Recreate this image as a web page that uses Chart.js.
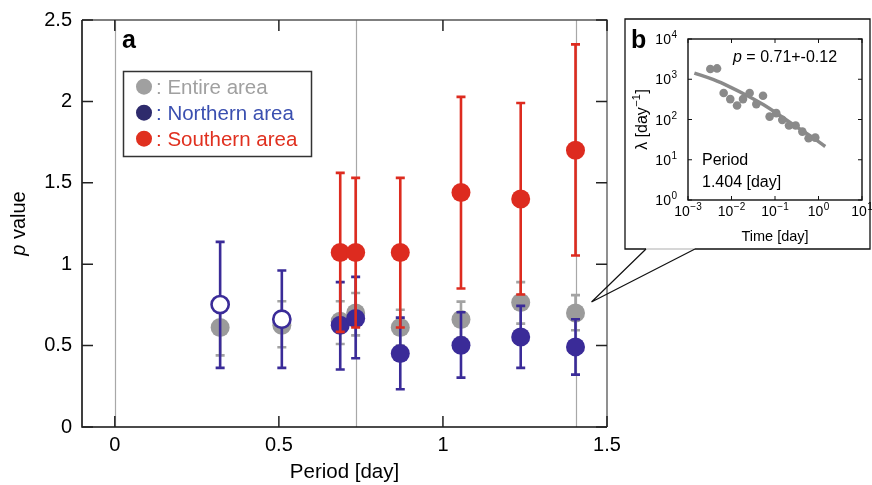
<!DOCTYPE html>
<html><head><meta charset="utf-8">
<script src="https://cdn.jsdelivr.net/npm/chart.js@4.4.1/dist/chart.umd.min.js"></script>
<style>
html,body{margin:0;padding:0;background:#fff;}
#wrap{position:relative;width:872px;height:485px;overflow:hidden;}
#main{position:absolute;left:0;top:0;}
#inset{position:absolute;left:625px;top:19px;}
</style></head><body>
<div id="wrap"><canvas id="main" width="872" height="485"></canvas><canvas id="inset" width="247" height="230"></canvas></div>
<script>
// ---- Data: panel a ----
const periods   = [0.321, 0.509, 0.687, 0.734, 0.870, 1.055, 1.237, 1.404];
const entireP   = [0.611, 0.625, 0.650, 0.700, 0.611, 0.660, 0.765, 0.700];
const entireLo  = [0.440, 0.490, 0.510, 0.563, 0.500, 0.550, 0.635, 0.594];
const entireHi  = [0.780, 0.772, 0.772, 0.823, 0.720, 0.770, 0.890, 0.810];
const northP    = [0.752, 0.662, 0.625, 0.666, 0.451, 0.502, 0.553, 0.492];
const northLo   = [0.363, 0.363, 0.353, 0.422, 0.232, 0.303, 0.363, 0.322];
const northHi   = [1.137, 0.961, 0.890, 0.922, 0.672, 0.705, 0.744, 0.662];
const northOpen = [true, true, false, false, false, false, false, false];
const southPeriods = [0.687, 0.734, 0.870, 1.055, 1.237, 1.404];
const southP    = [1.072, 1.072, 1.072, 1.440, 1.400, 1.700];
const southLo   = [0.584, 0.611, 0.611, 0.851, 0.814, 1.053];
const southHi   = [1.561, 1.530, 1.530, 2.028, 1.990, 2.350];
const refPeriods = [0, 0.734, 1.404];
const xTicks = [0, 0.5, 1, 1.5];
const yTicks = [0, 0.5, 1, 1.5, 2, 2.5];
const seriesNames = ['Entire area', 'Northern area', 'Southern area'];

// ---- Data: panel b (inset) ----
const insetTime = [0.00326, 0.00465, 0.0066, 0.00937, 0.0134, 0.0184, 0.0261, 0.0372, 0.053, 0.0752, 0.107, 0.147, 0.21, 0.298, 0.425, 0.592, 0.843];
const insetRate = [1795, 1858, 454, 321, 223, 321, 454, 241, 389, 118, 144, 98, 71, 71, 50, 34.3, 35.5];
const fitTime = [0.0014, 0.00388, 0.00937, 0.0227, 0.0547, 0.132, 0.321, 0.771, 1.43];
const fitRate = [1426, 973, 640, 395, 232, 124, 64.7, 34.4, 21.3];
const insetXTicks = [0.001, 0.01, 0.1, 1, 10];
const insetXExp = ['\u22123', '\u22122', '\u22121', '0', '1'];
const insetYTicks = [1, 10, 100, 1000, 10000];
const insetYExp = ['0', '1', '2', '3', '4'];

const FONT = '"Liberation Sans", Arial, Helvetica, sans-serif';
Chart.defaults.font.family = FONT;
Chart.defaults.color = '#000';

const GREY = '#9b9b9b', BLUE = '#3a2b98', RED = '#dd2b1f';
const toPts = (xs, ys) => xs.map((x, i) => ({x, y: ys[i]}));

const errorBars = {
  id: 'errorBars',
  beforeDatasetDraw(chart, args) {
    const ds = chart.data.datasets[args.index];
    if (!ds.errLo) return;
    const ctx = chart.ctx, xs = chart.scales.x, ys = chart.scales.y;
    ctx.save();
    ctx.strokeStyle = ds.errColor;
    ctx.lineWidth = 2.6;
    ds.data.forEach((pt, i) => {
      const x = xs.getPixelForValue(pt.x);
      const y1 = ys.getPixelForValue(ds.errLo[i]);
      const y2 = ys.getPixelForValue(ds.errHi[i]);
      ctx.beginPath();
      ctx.moveTo(x, y1); ctx.lineTo(x, y2);
      ctx.moveTo(x - 4.5, y1); ctx.lineTo(x + 4.5, y1);
      ctx.moveTo(x - 4.5, y2); ctx.lineTo(x + 4.5, y2);
      ctx.stroke();
    });
    ctx.restore();
  }
};

const frameA = {
  id: 'frameA',
  beforeDatasetsDraw(chart) {
    const ctx = chart.ctx, a = chart.chartArea, xs = chart.scales.x;
    ctx.save();
    ctx.strokeStyle = '#a8a8a8'; ctx.lineWidth = 1.2;
    refPeriods.forEach(v => {
      const x = Math.round(xs.getPixelForValue(v)) + 0.5;
      ctx.beginPath(); ctx.moveTo(x, a.top); ctx.lineTo(x, a.bottom); ctx.stroke();
    });
    ctx.restore();
  },
  afterDraw(chart) {
    const ctx = chart.ctx, a = chart.chartArea, xs = chart.scales.x, ys = chart.scales.y;
    ctx.save();
    ctx.lineWidth = 1.3; ctx.strokeStyle = '#555';
    ctx.beginPath(); ctx.moveTo(a.left, a.top); ctx.lineTo(a.right, a.top); ctx.lineTo(a.right, a.bottom); ctx.stroke();
    ctx.lineWidth = 1.6; ctx.strokeStyle = '#111';
    ctx.beginPath(); ctx.moveTo(a.left, a.top); ctx.lineTo(a.left, a.bottom); ctx.lineTo(a.right, a.bottom); ctx.stroke();
    ctx.lineWidth = 1.5; ctx.strokeStyle = '#222';
    const TL = 11;
    xTicks.forEach(v => {
      const x = xs.getPixelForValue(v);
      ctx.beginPath(); ctx.moveTo(x, a.bottom); ctx.lineTo(x, a.bottom - TL);
      ctx.moveTo(x, a.top); ctx.lineTo(x, a.top + TL); ctx.stroke();
    });
    yTicks.forEach(v => {
      const y = ys.getPixelForValue(v);
      ctx.beginPath(); ctx.moveTo(a.left, y); ctx.lineTo(a.left + TL, y);
      ctx.moveTo(a.right, y); ctx.lineTo(a.right - TL, y); ctx.stroke();
    });
    ctx.fillStyle = '#000';
    ctx.font = 'bold 25px ' + FONT;
    ctx.textBaseline = 'alphabetic'; ctx.textAlign = 'left';
    ctx.fillText('a', 122, 48);
    ctx.save();
    ctx.translate(25, a.top + (a.bottom - a.top) / 2);
    ctx.rotate(-Math.PI / 2);
    ctx.font = 'italic 20px ' + FONT;
    const w1 = ctx.measureText('p').width;
    ctx.font = '20px ' + FONT;
    const w2 = ctx.measureText(' value').width;
    const x0 = -(w1 + w2) / 2;
    ctx.font = 'italic 20px ' + FONT; ctx.fillText('p', x0, 0);
    ctx.font = '20px ' + FONT; ctx.fillText(' value', x0 + w1, 0);
    ctx.restore();
    ctx.lineWidth = 1.5; ctx.strokeStyle = '#333';
    ctx.strokeRect(123.5, 71.5, 188, 85);
    const legCircle = ['#a0a0a0', '#2e2b6c', '#e0301f'];
    const legText = ['#a0a0a0', '#3a4fb0', '#e0301f'];
    ctx.font = '20.5px ' + FONT;
    seriesNames.forEach((name, i) => {
      const cy = 86.7 + i * 26;
      ctx.fillStyle = legCircle[i];
      ctx.beginPath(); ctx.arc(144, cy, 8, 0, Math.PI * 2); ctx.fill();
      ctx.fillStyle = legText[i];
      ctx.fillText(': ' + name, 156, cy + 7);
    });
    const bx0 = 625, by0 = 19, bx1 = 870, by1 = 249;
    const c1 = 646, c2 = 695;
    ctx.lineWidth = 1.3; ctx.strokeStyle = '#111';
    ctx.beginPath();
    ctx.moveTo(c1, by1); ctx.lineTo(bx0, by1); ctx.lineTo(bx0, by0); ctx.lineTo(bx1, by0); ctx.lineTo(bx1, by1); ctx.lineTo(c2, by1);
    ctx.stroke();
    ctx.strokeStyle = '#c8c8c8';
    ctx.beginPath(); ctx.moveTo(c1, by1); ctx.lineTo(c2, by1); ctx.stroke();
    const sx = xs.getPixelForValue(periods[periods.length - 1]) + 16;
    const sy = ys.getPixelForValue(entireP[entireP.length - 1]) - 11;
    ctx.strokeStyle = '#111'; ctx.lineWidth = 1.2;
    ctx.beginPath(); ctx.moveTo(sx, sy); ctx.lineTo(c1, by1); ctx.moveTo(sx, sy); ctx.lineTo(c2, by1); ctx.stroke();
    ctx.restore();
  }
};

new Chart(document.getElementById('main'), {
  type: 'scatter',
  data: {
    datasets: [
      { label: seriesNames[0], data: toPts(periods, entireP), errLo: entireLo, errHi: entireHi, errColor: '#a3a3a3',
        backgroundColor: GREY, pointRadius: 9.5, pointBorderWidth: 0, pointHoverRadius: 9.5, order: 3 },
      { label: seriesNames[1], data: toPts(periods, northP), errLo: northLo, errHi: northHi, errColor: BLUE,
        pointBackgroundColor: c => northOpen[c.dataIndex] ? '#ffffff' : BLUE,
        pointBorderColor: BLUE,
        pointBorderWidth: c => northOpen[c.dataIndex] ? 2.6 : 0,
        pointRadius: c => northOpen[c.dataIndex] ? 8.6 : 9.5, order: 2 },
      { label: seriesNames[2], data: toPts(southPeriods, southP), errLo: southLo, errHi: southHi, errColor: RED,
        backgroundColor: RED, pointRadius: 9.5, pointBorderWidth: 0, order: 1 }
    ]
  },
  options: {
    responsive: false, animation: false,
    layout: { padding: { left: 0, right: 265, top: 20, bottom: 0 } },
    plugins: { legend: { display: false }, tooltip: { enabled: false } },
    scales: {
      x: { type: 'linear', min: -0.1, max: 1.5,
        afterBuildTicks: s => { s.ticks = xTicks.map(v => ({ value: v })); },
        afterFit: s => { s.height = 58; s.paddingLeft = 0; s.paddingRight = 0; },
        grid: { display: false, drawTicks: false }, border: { display: false },
        ticks: { padding: 6, font: { size: 20 }, color: '#000', maxRotation: 0, callback: v => String(v) },
        title: { display: true, text: 'Period [day]', font: { size: 20.5 }, color: '#000', padding: { top: 0, bottom: 0 } } },
      y: { type: 'linear', min: 0, max: 2.5,
        afterBuildTicks: s => { s.ticks = yTicks.map(v => ({ value: v })); },
        afterFit: s => { s.width = 82; s.paddingTop = 0; s.paddingBottom = 0; },
        grid: { display: false, drawTicks: false }, border: { display: false },
        ticks: { padding: 10, font: { size: 20 }, color: '#000', callback: v => String(v) } }
    }
  },
  plugins: [errorBars, frameA]
});

// ---- inset ----
function drawPow(ctx, exp, x, y, align) {
  ctx.font = '14px ' + FONT;
  const wb = ctx.measureText('10').width;
  ctx.font = '10px ' + FONT;
  const we = ctx.measureText(exp).width;
  const tot = wb + we + 0.5;
  let left = align === 'right' ? x - tot : x - tot / 2;
  ctx.font = '14px ' + FONT; ctx.fillText('10', left, y);
  ctx.font = '10px ' + FONT; ctx.fillText(exp, left + wb + 0.5, y - 6);
}

const frameB = {
  id: 'frameB',
  afterDraw(chart) {
    const ctx = chart.ctx, a = chart.chartArea, xs = chart.scales.x, ys = chart.scales.y;
    ctx.save();
    ctx.lineWidth = 1.4; ctx.strokeStyle = '#111';
    ctx.strokeRect(a.left, a.top, a.right - a.left, a.bottom - a.top);
    ctx.lineWidth = 1; const TL = 4;
    ctx.fillStyle = '#000'; ctx.textBaseline = 'alphabetic'; ctx.textAlign = 'left';
    insetXTicks.forEach((v, i) => {
      const x = xs.getPixelForValue(v);
      ctx.beginPath(); ctx.moveTo(x, a.bottom); ctx.lineTo(x, a.bottom - TL);
      ctx.moveTo(x, a.top); ctx.lineTo(x, a.top + TL); ctx.stroke();
      drawPow(ctx, insetXExp[i], x, a.bottom + 15.5, 'center');
    });
    insetYTicks.forEach((v, i) => {
      const y = ys.getPixelForValue(v);
      ctx.beginPath(); ctx.moveTo(a.left, y); ctx.lineTo(a.left + TL, y);
      ctx.moveTo(a.right, y); ctx.lineTo(a.right - TL, y); ctx.stroke();
      drawPow(ctx, insetYExp[i], a.left - 11, y + 5, 'right');
    });
    ctx.save();
    ctx.translate(22, a.top + (a.bottom - a.top) / 2);
    ctx.rotate(-Math.PI / 2);
    ctx.font = '16px ' + FONT;
    const t1 = '\u03BB [day', t3 = ']';
    const w1 = ctx.measureText(t1).width, w3 = ctx.measureText(t3).width;
    ctx.font = '11px ' + FONT;
    const w2 = ctx.measureText('\u22121').width;
    const s = -(w1 + w2 + w3 + 1) / 2;
    ctx.font = '16px ' + FONT; ctx.fillText(t1, s, 0);
    ctx.font = '11px ' + FONT; ctx.fillText('\u22121', s + w1 + 0.5, -7);
    ctx.font = '16px ' + FONT; ctx.fillText(t3, s + w1 + w2 + 1, 0);
    ctx.restore();
    ctx.font = 'bold 25px ' + FONT;
    ctx.fillText('b', 6, 29);
    ctx.font = 'italic 16px ' + FONT;
    const px = 108, py = 43;
    ctx.fillText('p', px, py);
    const wp = ctx.measureText('p').width;
    ctx.font = '16px ' + FONT;
    ctx.fillText(' = 0.71+-0.12', px + wp, py);
    ctx.fillText('Period', 77, 146);
    ctx.fillText('1.404 [day]', 77, 168);
    ctx.restore();
  }
};

new Chart(document.getElementById('inset'), {
  type: 'scatter',
  data: {
    datasets: [
      { label: 'fit', data: toPts(fitTime, fitRate), showLine: true, borderColor: '#8a8a8a', borderWidth: 3.5,
        pointRadius: 0, tension: 0.4, order: 2 },
      { label: 'data', data: toPts(insetTime, insetRate), backgroundColor: '#8a8a8a', pointRadius: 4.3,
        pointBorderWidth: 0, order: 1 }
    ]
  },
  options: {
    responsive: false, animation: false,
    layout: { padding: { left: 0, right: 10, top: 20, bottom: 0 } },
    plugins: { legend: { display: false }, tooltip: { enabled: false } },
    scales: {
      x: { type: 'logarithmic', min: 0.001, max: 10,
        afterBuildTicks: s => { s.ticks = insetXTicks.map(v => ({ value: v })); },
        afterFit: s => { s.height = 49; s.paddingLeft = 0; s.paddingRight = 0; },
        grid: { display: false, drawTicks: false }, border: { display: false },
        ticks: { display: false },
        title: { display: true, text: 'Time [day]', font: { size: 14.5 }, color: '#000', padding: { top: 0, bottom: 3 } } },
      y: { type: 'logarithmic', min: 1, max: 10000,
        afterBuildTicks: s => { s.ticks = insetYTicks.map(v => ({ value: v })); },
        afterFit: s => { s.width = 63; s.paddingTop = 0; s.paddingBottom = 0; },
        grid: { display: false, drawTicks: false }, border: { display: false },
        ticks: { display: false } }
    }
  },
  plugins: [frameB]
});
</script>
</body></html>
